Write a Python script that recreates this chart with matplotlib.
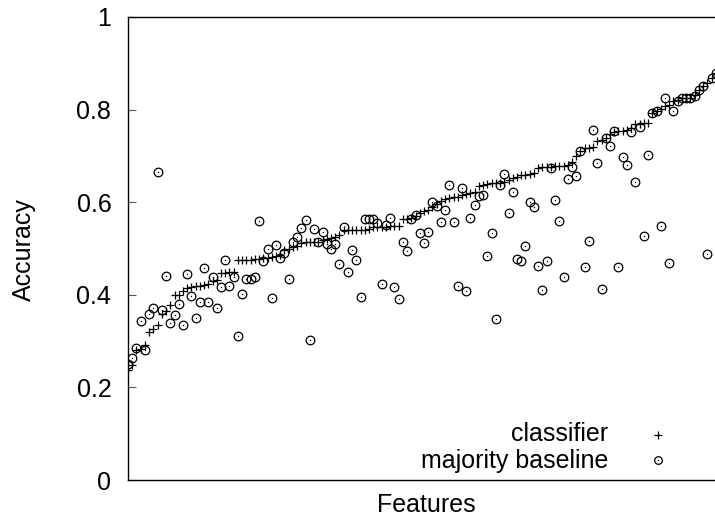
import matplotlib
matplotlib.use('Agg')
import matplotlib.pyplot as plt
import numpy as np

plt.rcParams['font.family'] = ['Liberation Sans', 'DejaVu Sans']

# classifier accuracy per feature (sorted)
classifier = [
    0.237, 0.248, 0.280, 0.284, 0.291, 0.319, 0.327, 0.334, 0.359, 0.365,
    0.377, 0.400, 0.400, 0.409, 0.415, 0.416, 0.418, 0.419, 0.421, 0.424,
    0.429, 0.432, 0.447, 0.448, 0.449, 0.449, 0.476, 0.476, 0.476, 0.476,
    0.477, 0.478, 0.479, 0.480, 0.482, 0.484, 0.487, 0.497, 0.499, 0.503,
    0.505, 0.511, 0.513, 0.513, 0.514, 0.515, 0.518, 0.520, 0.523, 0.525,
    0.529, 0.540, 0.540, 0.540, 0.540, 0.540, 0.541, 0.543, 0.546, 0.546,
    0.546, 0.547, 0.548, 0.548, 0.548, 0.564, 0.564, 0.566, 0.571, 0.576,
    0.580, 0.584, 0.590, 0.597, 0.603, 0.606, 0.609, 0.611, 0.612, 0.615,
    0.617, 0.619, 0.622, 0.634, 0.637, 0.640, 0.641, 0.641, 0.642, 0.644,
    0.648, 0.652, 0.655, 0.658, 0.659, 0.660, 0.664, 0.674, 0.675, 0.675,
    0.676, 0.679, 0.679, 0.679, 0.680, 0.686, 0.699, 0.711, 0.716, 0.717,
    0.720, 0.732, 0.735, 0.739, 0.747, 0.752, 0.754, 0.754, 0.757, 0.761,
    0.768, 0.769, 0.772, 0.772, 0.793, 0.798, 0.801, 0.807, 0.810, 0.818,
    0.821, 0.824, 0.825, 0.826, 0.832, 0.843, 0.851, 0.858, 0.869, 0.879,
]

# majority baseline accuracy for the same features
baseline = [
    0.251, 0.264, 0.286, 0.343, 0.281, 0.359, 0.372, 0.666, 0.368, 0.441,
    0.340, 0.357, 0.380, 0.334, 0.445, 0.398, 0.349, 0.384, 0.458, 0.384,
    0.438, 0.371, 0.416, 0.475, 0.419, 0.439, 0.311, 0.402, 0.434, 0.435,
    0.439, 0.559, 0.474, 0.500, 0.394, 0.508, 0.480, 0.491, 0.434, 0.515,
    0.524, 0.545, 0.562, 0.302, 0.543, 0.513, 0.536, 0.509, 0.500, 0.509,
    0.467, 0.546, 0.449, 0.497, 0.475, 0.395, 0.564, 0.564, 0.564, 0.554,
    0.424, 0.551, 0.566, 0.416, 0.391, 0.515, 0.494, 0.564, 0.573, 0.533,
    0.511, 0.536, 0.600, 0.592, 0.558, 0.583, 0.637, 0.558, 0.420, 0.630,
    0.409, 0.566, 0.595, 0.613, 0.615, 0.483, 0.533, 0.347, 0.637, 0.661,
    0.576, 0.621, 0.477, 0.474, 0.505, 0.600, 0.589, 0.463, 0.411, 0.472,
    0.673, 0.604, 0.559, 0.439, 0.650, 0.675, 0.656, 0.711, 0.459, 0.516,
    0.757, 0.684, 0.413, 0.739, 0.721, 0.753, 0.459, 0.697, 0.681, 0.752,
    0.643, 0.762, 0.526, 0.703, 0.793, 0.798, 0.548, 0.824, 0.469, 0.796,
    0.818, 0.824, 0.824, 0.826, 0.829, 0.843, 0.850, 0.488, 0.869, 0.879,
]

yticks = [0, 0.2, 0.4, 0.6, 0.8, 1]
ytick_labels = ['0', '0.2', '0.4', '0.6', '0.8', '1']

W, H = 715, 517
fig = plt.figure(figsize=(W / 100, H / 100), dpi=100)
ax = fig.add_axes([128 / W, 37 / H, 589 / W, 463 / H])

x = np.arange(len(classifier))
ax.plot(x, classifier, linestyle='none', marker='+', color='black',
        markersize=6, markeredgewidth=0.9)
ax.plot(x, baseline, linestyle='none', marker='o', markerfacecolor='none',
        markeredgecolor='black', markersize=6.2, markeredgewidth=0.9)
ax.plot(x, baseline, linestyle='none', marker='o', color='black',
        markersize=1.0, markeredgewidth=0)

ax.set_xlim(0, len(classifier) - 0.7)
ax.set_ylim(0, 1)
ax.set_xticks([])
ax.set_yticks(yticks)
ax.set_yticklabels(ytick_labels)
ax.tick_params(axis='y', direction='in', length=6, width=0.8,
               color='#555555', labelsize=18, pad=12)
for s in ax.spines.values():
    s.set_linewidth(1.0)

fig.text(24 / W, 1 - 250 / H, 'Accuracy', rotation=90, fontsize=18,
         ha='center', va='center')
fig.text(426 / W, 1 - 505 / H, 'Features', fontsize=18,
         ha='center', va='center')

# legend, gnuplot style: right-aligned text, marker to the right
fig.text(608 / W, 1 - 434 / H, 'classifier', fontsize=18,
         ha='right', va='center')
fig.text(608 / W, 1 - 461 / H, 'majority baseline', fontsize=18,
         ha='right', va='center')
fig.lines.append(plt.Line2D([658 / W], [1 - 435 / H], transform=fig.transFigure,
                            marker='+', color='black', markersize=6,
                            markeredgewidth=0.9, linestyle='none'))
fig.lines.append(plt.Line2D([658 / W], [1 - 460 / H], transform=fig.transFigure,
                            marker='o', markerfacecolor='none',
                            markeredgecolor='black', markersize=5.5,
                            markeredgewidth=0.9, linestyle='none'))
fig.lines.append(plt.Line2D([658 / W], [1 - 460 / H], transform=fig.transFigure,
                            marker='o', color='black', markersize=1.0,
                            markeredgewidth=0, linestyle='none'))

fig.savefig('out.png', dpi=100)
